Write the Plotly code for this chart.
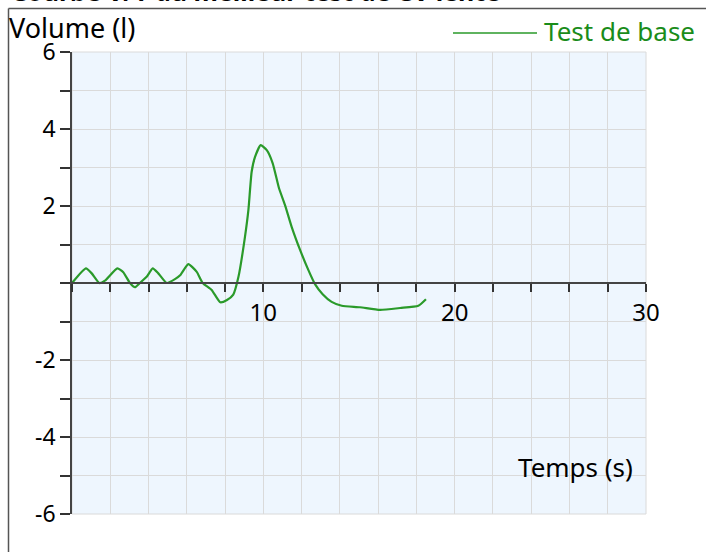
import plotly.graph_objects as go

# Data
temps = [0.0, 0.73, 1.03, 1.43, 1.72, 2.37, 2.68, 3.03, 3.29, 3.55, 3.9, 4.22, 4.51,
         4.95, 5.38, 5.65, 6.08, 6.52, 6.83, 7.3, 7.75, 8.1, 8.43, 8.7, 9.04, 9.22,
         9.39, 9.57, 9.86, 10.18, 10.49, 10.82, 11.13, 11.48, 11.92, 12.35, 12.7,
         13.1, 13.57, 14.1, 15.05, 16.1, 17.15, 18.1, 18.5]
volume = [0.0, 0.38, 0.25, 0.0, 0.06, 0.38, 0.28, 0.0, -0.11, 0.0, 0.16, 0.38, 0.25,
          0.0, 0.1, 0.2, 0.49, 0.29, 0.0, -0.18, -0.5, -0.44, -0.3, 0.16, 1.2, 1.9,
          2.89, 3.28, 3.58, 3.45, 3.11, 2.46, 2.03, 1.46, 0.86, 0.34, -0.03,
          -0.29, -0.49, -0.59, -0.63, -0.7, -0.65, -0.59, -0.42]

x_labels = [10, 20, 30]
y_labels = [-6, -4, -2, 2, 4, 6]
series_name = "Test de base"
title = "Courbe V/T du meilleur test de CV lente"

FONT = "Noto Sans"
GREEN = "#2A9A2A"
W, H = 706, 552
L, R, T, B = 72, 60, 52, 38
PW, PH = W - L - R, H - T - B

def px_x(p):
    return (p - L) / PW

def px_y(p):
    return 1 - (p - T) / PH

fig = go.Figure()
fig.add_trace(go.Scatter(x=temps, y=volume, mode="lines", name=series_name,
                         line=dict(color=GREEN, width=2.2, shape="spline", smoothing=0.5),
                         showlegend=False))

fig.update_layout(
    width=W, height=H,
    margin=dict(l=L, r=R, t=T, b=B, autoexpand=False),
    paper_bgcolor="white",
    plot_bgcolor="#EEF6FE",
    font=dict(family=FONT, size=24, color="black"),
    xaxis=dict(
        range=[0, 30], anchor="free", position=0.5,
        tickvals=x_labels, ticktext=[str(v) for v in x_labels],
        ticks="outside", ticklen=8, tickwidth=1.5, tickcolor="#333",
        showline=True, linecolor="#444", linewidth=1.5,
        showgrid=True, gridcolor="#DADADA", gridwidth=1,
        minor=dict(dtick=2, tick0=0, ticks="outside", ticklen=8, tickwidth=1.5,
                   tickcolor="#333", showgrid=True, gridcolor="#DADADA", gridwidth=1),
        zeroline=False, tickfont=dict(size=24, family=FONT),
        fixedrange=True,
    ),
    yaxis=dict(
        range=[-6, 6], domain=[0, 1],
        tickvals=y_labels, ticktext=[str(v) for v in y_labels],
        ticks="outside", ticklen=10, tickwidth=1.5, tickcolor="#333",
        showline=True, linecolor="#444", linewidth=1.5,
        showgrid=True, gridcolor="#DADADA", gridwidth=1,
        minor=dict(dtick=1, tick0=0, ticks="outside", ticklen=10, tickwidth=1.5,
                   tickcolor="#333", showgrid=True, gridcolor="#DADADA", gridwidth=1),
        zeroline=False, tickfont=dict(size=23, family=FONT),
        fixedrange=True,
    ),
)

# Outer frame (left and top edges)
fig.add_shape(type="line", xref="paper", yref="paper",
              x0=px_x(8.5), x1=px_x(8.5), y0=px_y(8.5), y1=px_y(560),
              line=dict(color="#555", width=1.5))
fig.add_shape(type="line", xref="paper", yref="paper",
              x0=px_x(8.5), x1=px_x(710), y0=px_y(8.5), y1=px_y(8.5),
              line=dict(color="#555", width=1.5))
# Plot area border
fig.add_shape(type="rect", xref="paper", yref="paper", x0=0, x1=1, y0=0, y1=1,
              line=dict(color="#DADADA", width=1), layer="below")

# Legend drawn manually
fig.add_shape(type="line", xref="paper", yref="paper",
              x0=px_x(453), x1=px_x(537), y0=px_y(33), y1=px_y(33),
              line=dict(color=GREEN, width=1.5))
fig.add_annotation(text=series_name, xref="paper", yref="paper",
                   x=px_x(542), y=px_y(31), xanchor="left", yanchor="middle",
                   showarrow=False, font=dict(color="#1A8C1A", size=26, family=FONT))

# Axis titles
fig.add_annotation(text="Volume (l)", xref="paper", yref="paper",
                   x=px_x(7), y=px_y(28), xanchor="left", yanchor="middle",
                   showarrow=False, font=dict(size=27, family=FONT))
fig.add_annotation(text="Temps (s)", xref="paper", yref="paper",
                   x=px_x(635), y=px_y(467), xanchor="right", yanchor="middle",
                   showarrow=False, font=dict(size=26, family=FONT))

# Title, mostly cut off at the top
fig.add_annotation(text="<b>" + title + "</b>", xref="paper", yref="paper",
                   x=px_x(9), y=px_y(-9), xanchor="left", yanchor="middle",
                   showarrow=False, font=dict(size=25, family=FONT))

fig.write_html("out.html", config={"displayModeBar": False},
               post_script="document.body.style.margin='0';")
